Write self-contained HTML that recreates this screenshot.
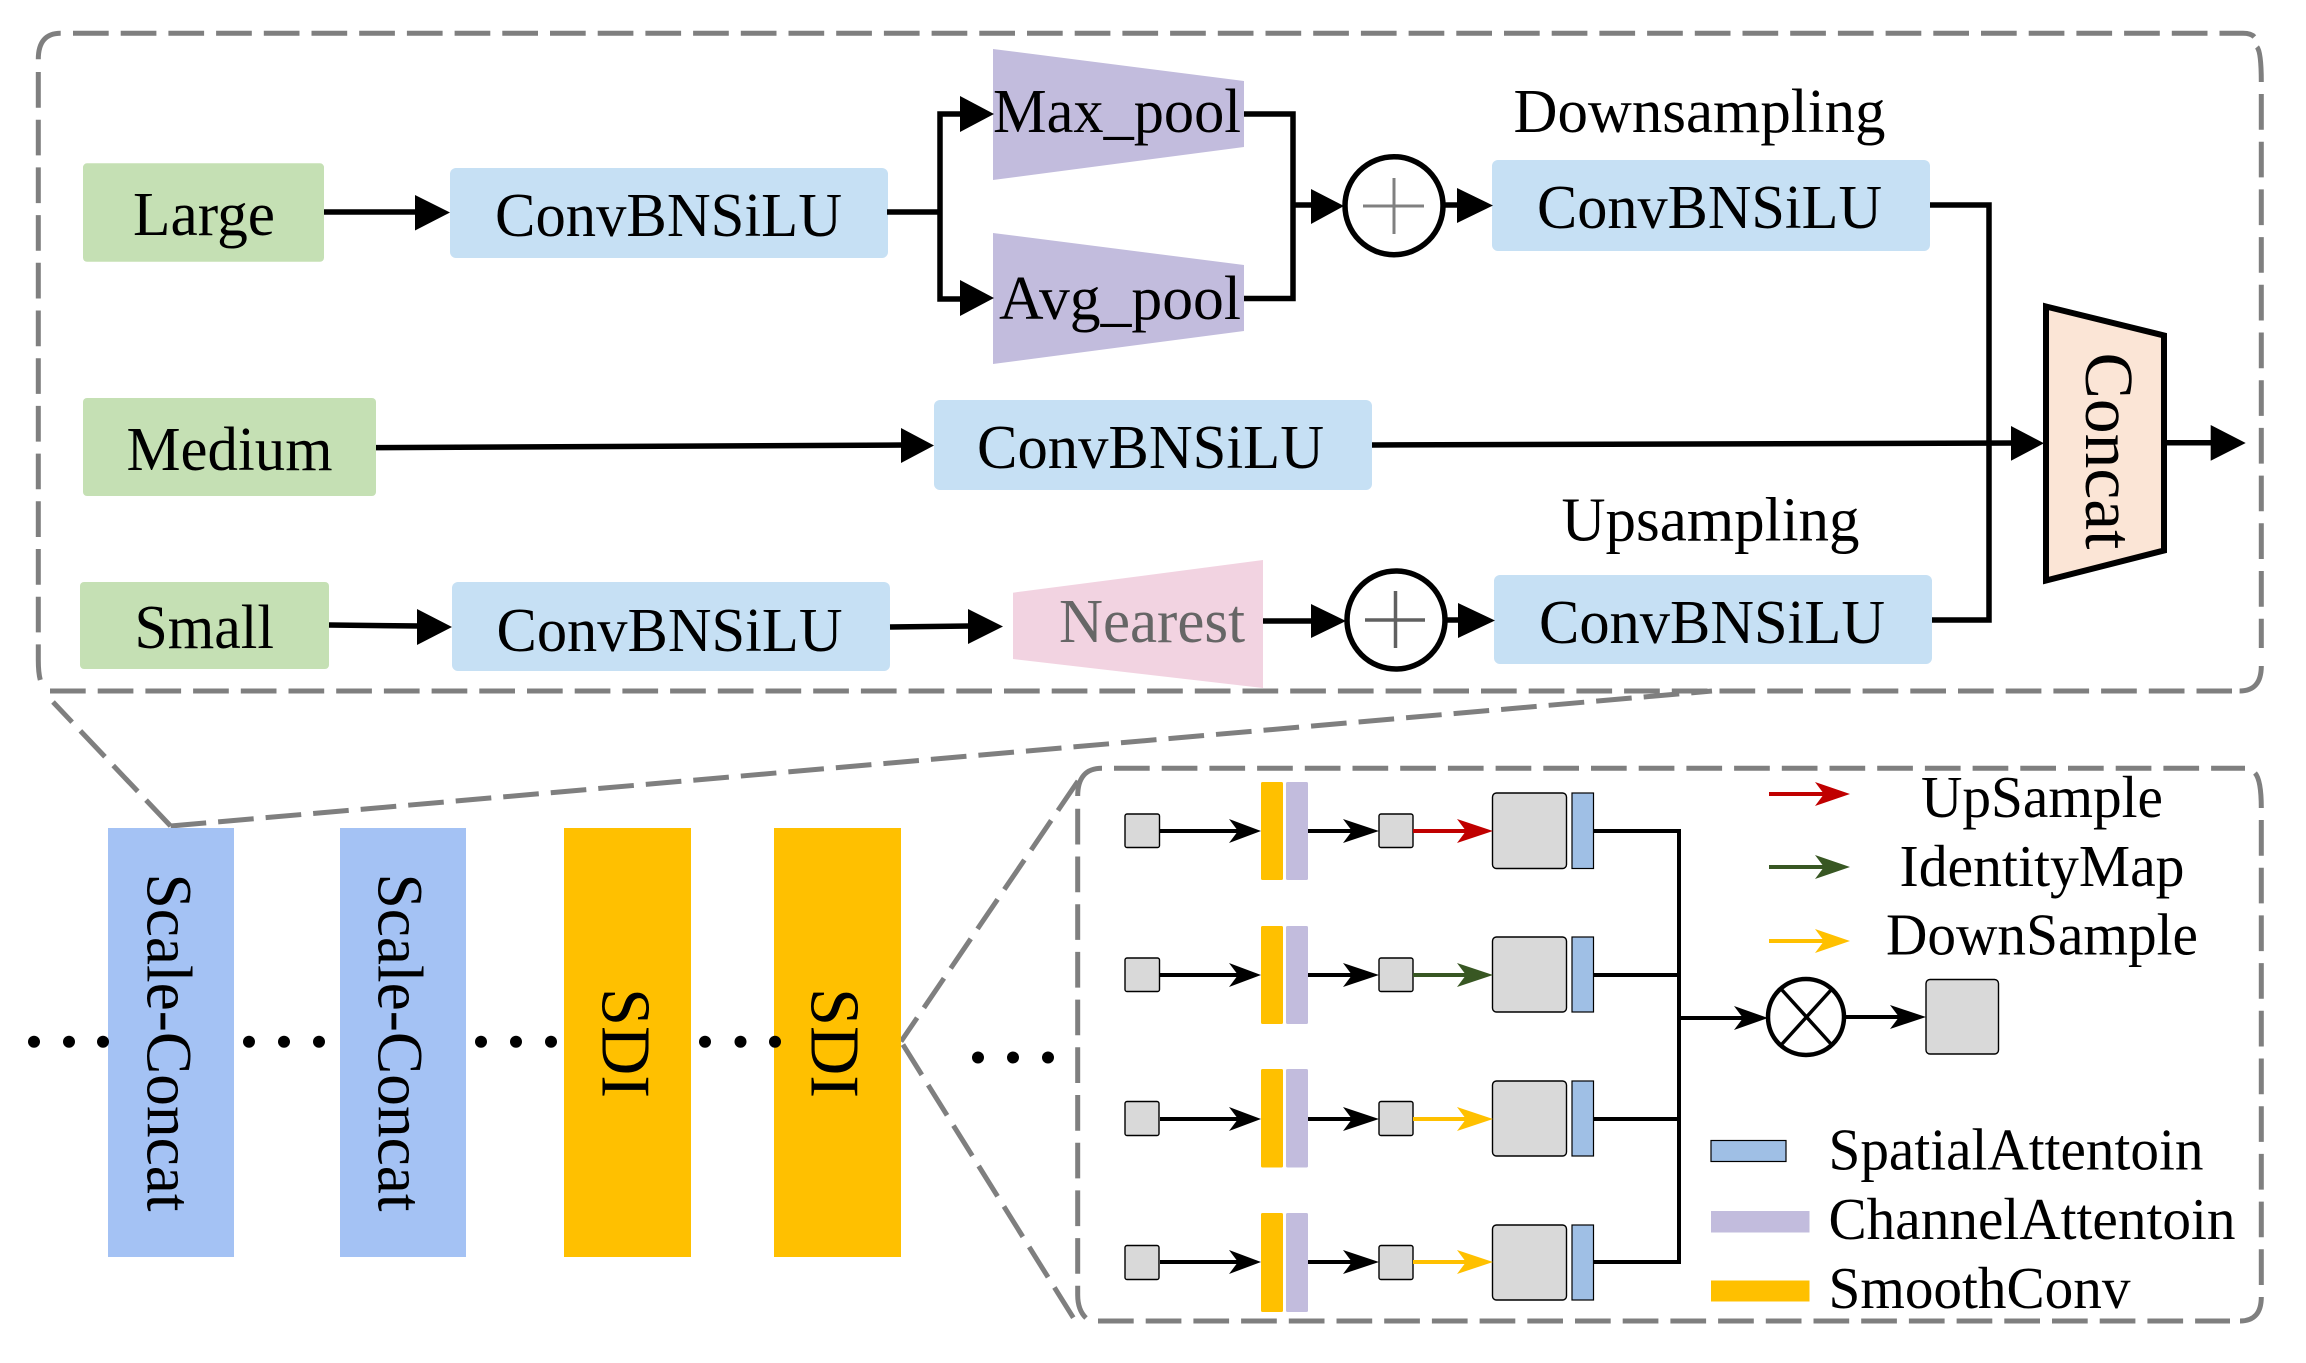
<!DOCTYPE html>
<html><head><meta charset="utf-8"><style>
html,body{margin:0;padding:0;background:#fff}
svg{display:block}
text{font-family:"Liberation Serif",serif;fill:#000}
.t{font-size:62px}.l{font-size:59px}
</style></head><body>
<svg width="2306" height="1363" viewBox="0 0 2306 1363" xmlns="http://www.w3.org/2000/svg">
<rect width="2306" height="1363" fill="#fff"/>
<!-- dashed containers -->
<g fill="none" stroke="#7f7f7f" stroke-width="5" stroke-dasharray="35.7 12">
<path d="M38.3 59.3Q38.3 33.3 60.7 33.3" stroke-dasharray="none"/>
<path d="M73 33.3H2243Q2254 33.3 2256 40" />
<path d="M2257 47Q2261.3 52 2261.3 82" stroke-dasharray="none"/>
<path d="M2261.3 94V648M2261.3 660"/>
<path d="M38.3 72V660Q38.3 685 46 689"/>
<path d="M50 691H2232"/>
<path d="M2239.6 691Q2261.3 691 2261.3 666" stroke-dasharray="none"/>
<path d="M1077.7 796Q1077.7 768.3 1102 768.3" stroke-dasharray="none"/>
<path d="M1114 768.3H2245"/>
<path d="M2255 773Q2261.3 780 2261.3 808" stroke-dasharray="none"/>
<path d="M2261.3 820V1286"/>
<path d="M1077.7 808.8V1295Q1077.7 1310 1086 1318"/>
<path d="M1098 1321H2230"/>
<path d="M2240 1321Q2261.3 1321 2261.3 1297" stroke-dasharray="none"/>
<path d="M170.6 826L53 702"/>
<path d="M170.6 826L1712 691"/>
<path d="M1078 781L901 1041.5"/>
<path d="M1073.3 1317.7L901 1041.5"/>
</g>
<!-- top section boxes -->
<g fill="#c5e0b4">
<rect x="83" y="163.3" width="241" height="98.5" rx="4"/>
<rect x="83" y="398" width="293" height="98" rx="4"/>
<rect x="80" y="582" width="249" height="87" rx="4"/>
</g>
<g fill="#c6e0f4">
<rect x="450" y="168" width="438" height="90" rx="6"/>
<rect x="934" y="400" width="438" height="90" rx="6"/>
<rect x="452" y="582" width="438" height="89" rx="6"/>
<rect x="1492" y="160" width="438" height="91" rx="6"/>
<rect x="1494" y="575" width="438" height="89" rx="6"/>
</g>
<g fill="#c2bcdd">
<polygon points="993,49 1244,81 1244,147 993,180"/>
<polygon points="993,233 1244,265 1244,331 993,364"/>
</g>
<polygon points="1013,592.7 1263,560 1263,688 1013,659" fill="#f2d3e1"/>
<polygon points="2046,306.5 2164,335.5 2164,550.5 2046,580.5" fill="#fbe5d6" stroke="#000" stroke-width="6"/>
<!-- top connectors -->
<g fill="none" stroke="#000" stroke-width="5.5">
<path d="M324 212H420"/>
<path d="M887 212H940M965 114H940V299H965"/>
<path d="M376 447.6L905 445"/>
<path d="M329 625L420 626"/>
<path d="M890 627L970 626"/>
<path d="M1244 114H1293V298.5H1244M1293 205H1315"/>
<path d="M1444 205H1460"/>
<path d="M1263 621H1315"/>
<path d="M1446 620H1462"/>
<path d="M1930 205H1989V620H1932"/>
<path d="M1372 445L2015 443"/>
<path d="M2167 442.7H2212"/>
</g>
<g fill="#000">
<polygon points="415,195 450,212.5 415,230.5"/>
<polygon points="960,96 994,114 960,132"/>
<polygon points="960,280 994,298 960,316"/>
<polygon points="901,428 934,445.5 901,463"/>
<polygon points="417,609 452,627 417,645"/>
<polygon points="968,609 1003,626.5 968,644"/>
<polygon points="1311,189 1344,206 1311,224"/>
<polygon points="1457,188 1493,205.5 1457,223"/>
<polygon points="1311,604 1346,621 1311,638"/>
<polygon points="1458,603 1495,620.5 1458,638"/>
<polygon points="2011,426 2044,443.3 2011,460.7"/>
<polygon points="2210.7,425 2245.7,443 2210.7,460.7"/>
</g>
<!-- circles -->
<g fill="#fff" stroke="#000" stroke-width="5.5">
<circle cx="1394" cy="205.7" r="49"/>
<circle cx="1396" cy="620" r="49"/>
</g>
<path d="M1363 206H1424M1394 178V234" stroke="#808080" stroke-width="3" fill="none"/>
<path d="M1365 620H1425M1395.5 591V648" stroke="#606060" stroke-width="3.5" fill="none"/>
<!-- top text -->
<text class="t" x="133" y="235" textLength="142" lengthAdjust="spacingAndGlyphs">Large</text>
<text class="t" x="495" y="236" textLength="347" lengthAdjust="spacingAndGlyphs">ConvBNSiLU</text>
<text class="t" x="993" y="132" textLength="248" lengthAdjust="spacingAndGlyphs">Max_pool</text>
<text class="t" x="999" y="319" textLength="242" lengthAdjust="spacingAndGlyphs">Avg_pool</text>
<text class="t" x="1513.5" y="132" textLength="372" lengthAdjust="spacingAndGlyphs">Downsampling</text>
<text class="t" x="1537" y="228" textLength="345" lengthAdjust="spacingAndGlyphs">ConvBNSiLU</text>
<text class="t" x="126.5" y="470" textLength="206" lengthAdjust="spacingAndGlyphs">Medium</text>
<text class="t" x="977" y="468" textLength="347" lengthAdjust="spacingAndGlyphs">ConvBNSiLU</text>
<text class="t" x="134.5" y="648" textLength="139.5" lengthAdjust="spacingAndGlyphs">Small</text>
<text class="t" x="496.5" y="651" textLength="346" lengthAdjust="spacingAndGlyphs">ConvBNSiLU</text>
<text class="t" x="1059" y="642" textLength="186" lengthAdjust="spacingAndGlyphs" style="fill:#666">Nearest</text>
<text class="t" x="1561.5" y="540.5" textLength="298" lengthAdjust="spacingAndGlyphs">Upsampling</text>
<text class="t" x="1539" y="643" textLength="346" lengthAdjust="spacingAndGlyphs">ConvBNSiLU</text>
<text x="0" y="0" transform="translate(2086,352.5) rotate(90)" font-size="69" textLength="197" lengthAdjust="spacingAndGlyphs">Concat</text>
<!-- bottom left blocks -->
<g fill="#a4c2f4">
<rect x="108" y="828" width="126" height="429"/>
<rect x="340" y="828" width="126" height="429"/>
</g>
<g fill="#ffc000">
<rect x="564" y="828" width="127" height="429"/>
<rect x="774" y="828" width="127" height="429"/>
</g>
<text x="0" y="0" transform="translate(147.3,873.5) rotate(90)" font-size="65" textLength="338" lengthAdjust="spacingAndGlyphs">Scale-Concat</text>
<text x="0" y="0" transform="translate(378.3,873.5) rotate(90)" font-size="65" textLength="338" lengthAdjust="spacingAndGlyphs">Scale-Concat</text>
<text x="0" y="0" transform="translate(602.5,988) rotate(90)" font-size="70" textLength="110" lengthAdjust="spacingAndGlyphs">SDI</text>
<text x="0" y="0" transform="translate(811.5,988) rotate(90)" font-size="70" textLength="110" lengthAdjust="spacingAndGlyphs">SDI</text>
<g fill="#000">
<circle cx="34" cy="1041.7" r="6"/><circle cx="69" cy="1041.7" r="6"/><circle cx="103" cy="1041.7" r="6"/>
<circle cx="249" cy="1041.7" r="6"/><circle cx="284" cy="1041.7" r="6"/><circle cx="319" cy="1041.7" r="6"/>
<circle cx="481" cy="1041.7" r="6"/><circle cx="516" cy="1041.7" r="6"/><circle cx="551" cy="1041.7" r="6"/>
<circle cx="705" cy="1041.7" r="6"/><circle cx="740.5" cy="1041.7" r="6"/><circle cx="775" cy="1041.7" r="6"/>
<circle cx="978" cy="1057.5" r="6"/><circle cx="1013" cy="1057.5" r="6"/><circle cx="1048" cy="1057.5" r="6"/>
</g>
<!-- SDI detail: bars -->
<g fill="#ffc000">
<rect x="1261" y="782" width="22" height="98" rx="1.5"/><rect x="1261" y="926" width="22" height="98" rx="1.5"/>
<rect x="1261" y="1069" width="22" height="98.5" rx="1.5"/><rect x="1261" y="1213" width="22" height="99" rx="1.5"/>
<rect x="1711" y="1280.5" width="98.5" height="21"/>
</g>
<g fill="#c2bcdd">
<rect x="1286" y="782" width="22" height="98" rx="1.5"/><rect x="1286" y="926" width="22" height="98" rx="1.5"/>
<rect x="1286" y="1069" width="22" height="98.5" rx="1.5"/><rect x="1286" y="1213" width="22" height="99" rx="1.5"/>
<rect x="1711" y="1211" width="98.5" height="21.5"/>
</g>
<g fill="#d9d9d9" stroke="#000" stroke-width="1.4">
<rect x="1125" y="814" width="34.5" height="33.5" rx="2"/><rect x="1379" y="814" width="34" height="33.5" rx="2"/>
<rect x="1125" y="958" width="34.5" height="33.5" rx="2"/><rect x="1379" y="958" width="34" height="33.5" rx="2"/>
<rect x="1125" y="1101.5" width="34" height="34" rx="2"/><rect x="1379" y="1101.5" width="34" height="34" rx="2"/>
<rect x="1125" y="1245.5" width="34" height="34" rx="2"/><rect x="1379" y="1245.5" width="34" height="34" rx="2"/>
<rect x="1492.5" y="793" width="74" height="75.5" rx="4"/><rect x="1492.5" y="937" width="74" height="75" rx="4"/>
<rect x="1492.5" y="1081" width="74" height="75" rx="4"/><rect x="1492.5" y="1225" width="74" height="75" rx="4"/>
<rect x="1926" y="979.5" width="72.5" height="74.5" rx="4"/>
</g>
<g fill="#9fbfe5" stroke="#000" stroke-width="1.2">
<rect x="1572" y="793" width="21.5" height="75.5"/><rect x="1572" y="937" width="21.5" height="75"/>
<rect x="1572" y="1081" width="21.5" height="75"/><rect x="1572" y="1225" width="21.5" height="75"/>
<rect x="1711" y="1140.5" width="75" height="21"/>
</g>
<!-- SDI detail: black connectors -->
<g fill="none" stroke="#000" stroke-width="4">
<path d="M1160 831H1240M1308 831H1355"/>
<path d="M1160 975H1240M1308 975H1355"/>
<path d="M1160 1119H1240M1308 1119H1355"/>
<path d="M1160 1262H1240M1308 1262H1355"/>
<path d="M1593 831H1679V1262H1593M1593 975H1679M1593 1119H1679M1679 1018H1745"/>
<path d="M1846 1017H1900"/>
</g>
<g fill="#000">
<polygon points="1229,819 1261,831 1229,843 1238,831"/>
<polygon points="1229,963 1261,975 1229,987 1238,975"/>
<polygon points="1229,1107 1261,1119 1229,1131 1238,1119"/>
<polygon points="1229,1250 1261,1262 1229,1274 1238,1262"/>
<polygon points="1343,819 1379,831 1343,843 1352,831"/>
<polygon points="1343,963 1379,975 1343,987 1352,975"/>
<polygon points="1343,1107 1379,1119 1343,1131 1352,1119"/>
<polygon points="1343,1250 1379,1262 1343,1274 1352,1262"/>
<polygon points="1734,1006 1768,1018 1734,1030 1743,1018"/>
<polygon points="1890,1005 1926,1017 1890,1029 1899,1017"/>
</g>
<!-- coloured arrows -->
<g fill="none" stroke-width="4">
<path d="M1413 831H1470M1769 794H1825" stroke="#c00000"/>
<path d="M1413 975H1470M1769 867H1825" stroke="#385723"/>
<path d="M1413 1119H1470M1413 1262H1470M1769 941H1825" stroke="#ffc000"/>
</g>
<g fill="#c00000"><polygon points="1457,819 1493,831 1457,843 1466,831"/><polygon points="1815,782 1850,794 1815,806 1824,794"/></g>
<g fill="#385723"><polygon points="1457,963 1493,975 1457,987 1466,975"/><polygon points="1815,855 1850,867 1815,879 1824,867"/></g>
<g fill="#ffc000"><polygon points="1457,1107 1493,1119 1457,1131 1466,1119"/><polygon points="1457,1250 1493,1262 1457,1274 1466,1262"/><polygon points="1815,929 1850,941 1815,953 1824,941"/></g>
<!-- multiply -->
<circle cx="1806" cy="1017" r="38" fill="#fff" stroke="#000" stroke-width="4.5"/>
<path d="M1782 990L1831 1044M1831 990L1782 1044" stroke="#000" stroke-width="3.5" fill="none"/>
<!-- legend text -->
<text class="l" x="1921" y="817" textLength="242" lengthAdjust="spacingAndGlyphs">UpSample</text>
<text class="l" x="1899.5" y="886" textLength="285" lengthAdjust="spacingAndGlyphs">IdentityMap</text>
<text class="l" x="1886" y="954.5" textLength="312" lengthAdjust="spacingAndGlyphs">DownSample</text>
<text class="l" x="1828.5" y="1169.5" textLength="375" lengthAdjust="spacingAndGlyphs">SpatialAttentoin</text>
<text class="l" x="1828.5" y="1239" textLength="407" lengthAdjust="spacingAndGlyphs">ChannelAttentoin</text>
<text class="l" x="1828.5" y="1308" textLength="302" lengthAdjust="spacingAndGlyphs">SmoothConv</text>
</svg>
</body></html>
